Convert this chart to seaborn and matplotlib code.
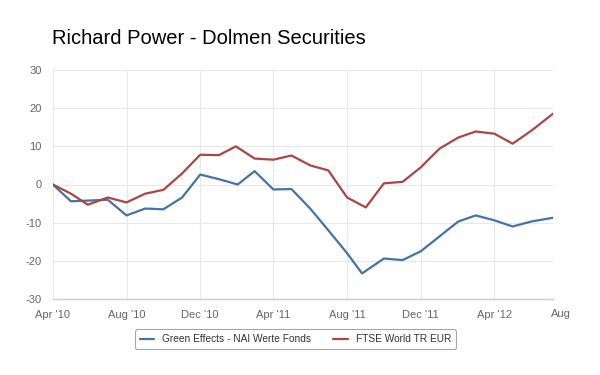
import matplotlib
matplotlib.use("Agg")
import matplotlib.pyplot as plt
import seaborn as sns
import pandas as pd
import numpy as np

# month offsets from Apr 2010
months = [0, 1, 2, 3, 4, 5, 6, 7, 8, 9, 10, 11, 12, 13, 14, 15, 16, 16.8, 18, 19, 20, 21, 22, 23, 24, 25, 26, 27.2]
green_effects = [0, -4.4, -4.2, -4.0, -8.1, -6.3, -6.5, -3.4, 2.6, 1.4, 0.0, 3.5, -1.3, -1.2, -6.3, -12.0, -18.0, -23.3,
                 -19.4, -19.8, -17.5, -13.6, -9.7, -8.1, -9.4, -11.0, -9.7, -8.7]
months_r = [0, 1, 1.9, 3, 4, 5, 6, 7, 8, 9, 9.9, 11, 12, 13, 14, 15, 16, 17, 18, 19, 20, 21, 22, 23, 24, 25, 26, 27.2]
ftse_world = [0, -2.4, -5.3, -3.4, -4.7, -2.4, -1.4, 2.9, 7.8, 7.7, 10.0, 6.8, 6.5, 7.6, 5.0, 3.7, -3.4, -6.0,
              0.3, 0.7, 4.5, 9.4, 12.3, 13.9, 13.3, 10.7, 14.1, 18.6]
series_names = ["Green Effects - NAI Werte Fonds", "FTSE World TR EUR"]
tick_labels = ["Apr '10", "Aug '10", "Dec '10", "Apr '11", "Aug '11", "Dec '11", "Apr '12"]
y_ticks = [-30, -20, -10, 0, 10, 20, 30]

start = pd.Timestamp("2010-04-01")
def to_date(m):
    whole = int(np.floor(m))
    frac = m - whole
    d0 = start + pd.DateOffset(months=whole)
    d1 = start + pd.DateOffset(months=whole + 1)
    return d0 + (d1 - d0) * frac

df = pd.concat([
    pd.DataFrame({"date": [to_date(m) for m in months], "value": green_effects, "series": series_names[0]}),
    pd.DataFrame({"date": [to_date(m) for m in months_r], "value": ftse_world, "series": series_names[1]}),
])

sns.set_theme(style="white")
plt.rcParams["font.family"] = ["Liberation Sans", "DejaVu Sans"]
plt.rcParams["axes.unicode_minus"] = False

fig = plt.figure(figsize=(6, 3.75), dpi=100)
ax = fig.add_axes([0.088, 0.2027, 0.834, 0.6106])

sns.lineplot(data=df, x="date", y="value", hue="series", palette=["#4572A7", "#AA4643"],
             linewidth=1.6, ax=ax, legend=True)

tick_dates = [start + pd.DateOffset(months=4 * i) for i in range(len(tick_labels))]
ax.set_xticks(tick_dates)
ax.set_xticklabels(tick_labels)
ax.set_xlim(start, to_date(27.2))
ax.set_yticks(y_ticks)
ax.set_ylim(-30, 30)
ax.set_xlabel("")
ax.set_ylabel("")

ax.grid(True, color="#e8e8e8", linewidth=0.8)
ax.set_axisbelow(True)
for s in ["top", "right", "left"]:
    ax.spines[s].set_visible(False)
ax.spines["bottom"].set_color("#c0d0e0")
ax.spines["bottom"].set_linewidth(1.0)
ax.tick_params(axis="x", colors="#666666", labelsize=8, length=4, width=0.8, direction="out", pad=4)
ax.tick_params(axis="x", color="#c0d0e0")
ax.tick_params(axis="y", colors="#666666", labelsize=8, length=0, pad=8)

# clipped final label at the right edge
ax.text(0.995, -0.045, "Aug", transform=ax.transAxes, ha="left", va="top", fontsize=8, color="#666666",
        clip_on=False)

fig.text(0.087, 0.897, "Richard Power - Dolmen Securities", fontsize=14.5, color="black", ha="left", va="center")

leg = ax.legend(loc="center", bbox_to_anchor=(0.485, -0.175), ncol=2, frameon=True, fontsize=7.3,
                handlelength=1.4, columnspacing=2.2, borderpad=0.45, fancybox=True)
leg.get_frame().set_edgecolor("#909090")
leg.get_frame().set_linewidth(0.8)
for t in leg.get_texts():
    t.set_color("#333333")

fig.savefig("out.png", dpi=100)
